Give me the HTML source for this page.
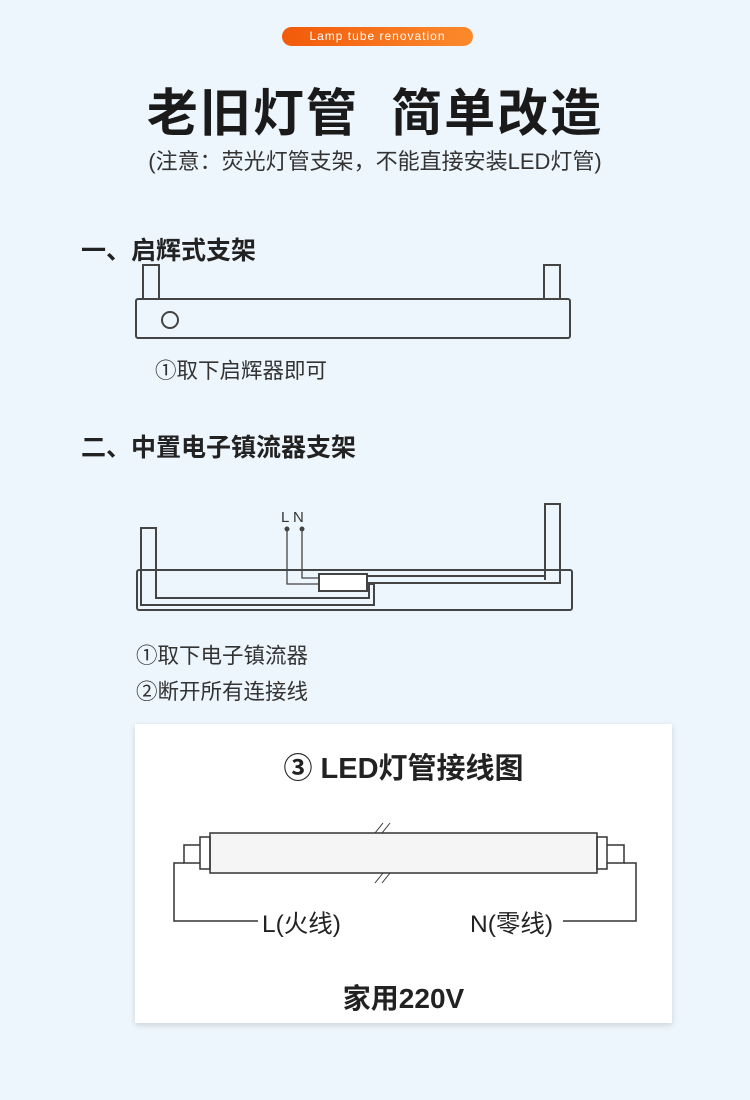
<!DOCTYPE html>
<html><head><meta charset="utf-8"><style>
body{margin:0;width:750px;height:1100px;background:#eef6fd;position:relative;font-family:"Liberation Sans","Noto Sans CJK SC",sans-serif;color:#222;overflow:hidden}
.a{position:absolute;white-space:nowrap}
</style></head><body>
<div class="a" style="left:282px;top:27px;width:191px;height:19px;border-radius:10px;background:linear-gradient(90deg,#f25a0a,#fb8a2c);color:#fff;font-size:12px;line-height:19px;text-align:center;letter-spacing:1px">Lamp tube renovation</div>
<div class="a" style="left:0;width:750px;top:72px;text-align:center;font-size:51px;font-weight:bold;color:#1a1a1a;letter-spacing:2px">老旧灯管&nbsp;&nbsp;简单改造</div>
<div class="a" style="left:0;width:750px;top:144px;text-align:center;font-size:22px;color:#333">(注意：荧光灯管支架，不能直接安装LED灯管)</div>
<div class="a" style="left:81px;top:231px;font-size:25px;font-weight:bold">一、启辉式支架</div>
<div class="a" style="left:155px;top:354px;font-size:21.5px;color:#333">①取下启辉器即可</div>
<div class="a" style="left:81px;top:428px;font-size:25px;font-weight:bold">二、中置电子镇流器支架</div>
<div class="a" style="left:136px;top:639px;font-size:21.5px;color:#333">①取下电子镇流器</div>
<div class="a" style="left:136px;top:675px;font-size:21.5px;color:#333">②断开所有连接线</div>
<div class="a" style="left:135px;top:724px;width:537px;height:299px;background:#fff;box-shadow:0 2px 6px rgba(0,0,0,.15)"></div>
<div class="a" style="left:135px;width:537px;top:745px;text-align:center;font-size:29px;font-weight:bold;color:#222">③ LED灯管接线图</div>
<div class="a" style="left:262px;top:905px;font-size:24.5px;color:#222">L(火线)</div>
<div class="a" style="left:470px;top:905px;font-size:24.5px;color:#222">N(零线)</div>
<div class="a" style="left:135px;width:537px;top:977px;text-align:center;font-size:28px;font-weight:bold;color:#222">家用220V</div>
<svg class="a" style="left:0;top:0" width="750" height="1100" fill="none" stroke="#444">
<g stroke-width="2">
<rect x="143" y="265" width="16" height="34"/><rect x="544" y="265" width="16" height="34"/>
<rect x="136" y="299" width="434" height="39" rx="2" fill="#eef6fd"/>
<circle cx="170" cy="320" r="8"/>
<rect x="137" y="570" width="435" height="40" rx="2"/>
<path d="M141 600V528H156V598H369V584"/>
<path d="M141 600V605H374V584H367"/>
<path d="M545 580V504H560V583H367"/>
<path d="M367 576H545"/>
<rect x="319" y="574" width="48" height="17" fill="#fff"/>
</g>
<g stroke-width="1.3"><path d="M287 529V584H319M302 529V578H319"/></g>
<circle cx="287" cy="529" r="2" fill="#444"/><circle cx="302" cy="529" r="2" fill="#444"/>
<text x="281" y="522" fill="#333" stroke="none" font-size="15" font-family="Liberation Sans">L N</text>
<g stroke="#333" stroke-width="1.5">
<rect x="210" y="833" width="387" height="40" fill="#f5f5f5"/>
<rect x="200" y="837" width="10" height="32"/><rect x="597" y="837" width="10" height="32"/>
<path d="M200 845H184V863H200M607 845H624V863H607"/>
<path d="M184 863H174V921H258M624 863H636V921H563"/>
<path d="M375 833l8-10M382 833l8-10M375 883l8-10M382 883l8-10" stroke-width="1"/>
</g>
</svg>
</body></html>
